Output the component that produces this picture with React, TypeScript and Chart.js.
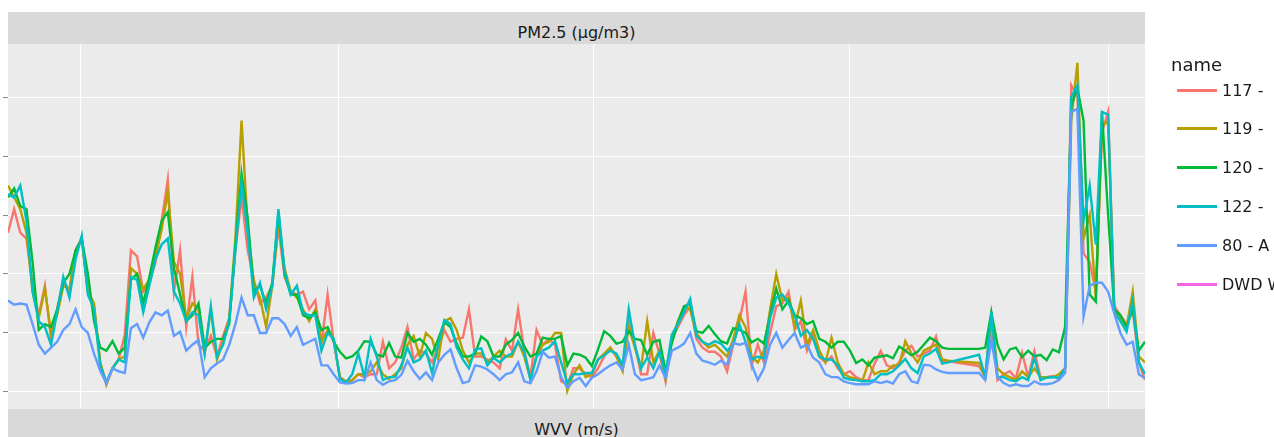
import React, { useEffect, useRef } from "react";
import { Chart, registerables } from "chart.js";

Chart.register(...registerables);

// ---- data -------------------------------------------------------------
// one sample every STEP_HOURS hours, starting at hour 0
const STEP_HOURS = 4;
const X_MAX_HOURS = 740;
// vertical grid lines (weekly date breaks), in hours from start
const X_GRID_HOURS = [47, 215, 381, 548, 716];
// horizontal grid lines / y ticks, µg/m3
const Y_TICKS = [0, 10, 20, 30, 40, 50];
const Y_MIN = -2.9;
const Y_MAX = 59;

const STRIP_TOP = "PM2.5 (µg/m3)";
const STRIP_BOTTOM = "WVV (m/s)";
const LEGEND_TITLE = "name";
const SERIES_NAMES = ["117 -", "119 -", "120 -", "122 -", "80 - A", "DWD W"];
const SERIES_COLORS = ["#F8766D", "#B79F00", "#00BA38", "#00BFC4", "#619CFF", "#F564E3"];

const S117: (number | null)[] = [
  27, 31, 27, 26, 18, 13, 18, 9, 14, 19,
  17, 24, 26, 17, 14.5, 5, 1.5, 4, 5.5, 9.7,
  24, 23, 17, 18.5, 22, 29, 36, 17, 24, 11,
  19.5, 8, 7, 9.5, 6, 9.5, 12.5, 24, 33, 24,
  19, 15, 16, 18, 28, 19.5, 17, 16.5, 17, 14,
  15.5, 8, 16.5, 8.5, 2.5, 1.8, 2, 3, 2.5, 3,
  3, 8.5, 4, 5, 7.5, 11, 5.5, 7, 6.5, 5,
  7.5, 10.5, 8.5, 9, 9.2, 14, 6, 6, 5.5, 5,
  4, 8.9, 7, 14, 7, 2.5, 10.5, 8, 9, 8,
  1.8, 1.2, 4, 4, 3, 2.5, 4, 6, 7.5, 6,
  4, 12.5, 8, 3, 3, 10, 6.5, 1.8, 9, 11,
  13, 14.5, 9, 7.5, 6.8, 6.8, 6, 3.5, 8, 12,
  17, 4.5, 8, 5, 10, 14.5, 15, 17, 10.5, 12,
  7, 10, 6, 5, 6, 4, 3, 3.5, 2.5, 2,
  2, 4.8, 6.9, 4.5, 4, 5, 7, 7.8, 6, 6.5,
  7, 9.4, 5.2, 5.2, null, null, null, null, 4.4, 2.5,
  12, 2, 3, 3.5, 2.3, 6.6, 2.5, 6.9, 2.5, 2.5,
  2.7, 2.2, 4, 52, 50, 23.5, 22, 17, 44, 47.5,
  14.5, 13, 11.5, 14, 5, 2,
];

const S119: (number | null)[] = [
  35, 33, 31, 27, 17, 12.5, 17.5, 10, 13, 18,
  17.5, 24, 26, 17, 15, 5, 1.2, 4, 5.5, 6,
  21, 20, 17.5, 19, 23, 27.5, 34, 22, 20, 12.5,
  15, 14, 6.5, 14, 5.5, 8.5, 12.5, 26, 46, 28,
  18.5, 16, 11, 18, 29, 21, 17, 16, 14, 12,
  14, 8.5, 10.5, 9, 2.5, 1.6, 2, 3, 3, 3.5,
  5, 3, 2.2, 3, 4, 8, 9.5, 6, 10, 9,
  5.5, 12, 12.5, 10.5, 7, 5, 6.5, 6.5, 5, 6,
  7, 6, 6, 8.5, 6, 2.2, 6, 8, 8.5, 10,
  10, 0.2, 3, 4.5, 2.5, 3, 5.5, 6.5, 7.5, 6,
  3.5, 11, 7.5, 4, 12, 5, 7, 2.2, 9, 12,
  14.5, 14, 10, 8.5, 7.5, 8, 7, 6, 9, 13,
  11, 6, 5, 7, 14, 20, 15.5, 16, 11, 15.5,
  8, 10.5, 7, 5, 9.2, 5, 3, 2.5, 2.2, 1.8,
  5, 3, 3.5, 3.5, 4.5, 4.5, 8.6, 6.5, 5, 7,
  7.5, 8, 5.5, 5.3, null, null, null, null, 4.9, 2.5,
  13, 4, 3, 2.5, 2, 3.5, 2.5, 4, 2.5, 2.5,
  2.5, 3, 4, 46, 55.8, 26, 30, 16, 45, 46,
  13.7, 12.5, 11, 17, 6, 5,
];

const S120: (number | null)[] = [
  33, 34.5, 31.5, 31, 22, 10.5, 11.5, 11, 14, 18.5,
  20, 24, 26, 20, 12, 7.5, 7, 8.6, 6.5, 7.5,
  19, 20, 15, 19.5, 24.5, 29, 30.5, 21, 16.5, 12,
  13, 15, 7.5, 8.5, 9, 9, 11.5, 25, 37, 29.5,
  17, 18, 15, 18.5, 30.5, 20, 16.5, 16.5, 13, 12.5,
  13.5, 10.5, 11, 8.5, 6.8, 5.7, 6, 7, 8.6, 8.5,
  6.3, 6, 8.3, 6, 5.8, 10, 8.5, 9, 8, 6.3,
  9, 11.8, 11, 8.2, 6, 6, 6.5, 9.4, 8.6, 6,
  6, 8, 8.8, 10, 7.7, 6, 6.5, 9.2, 9, 9,
  9.5, 4.5, 6.5, 6.3, 5.8, 4.4, 7.2, 10.3, 9.5, 8.2,
  8.5, 10.3, 9, 8.8, 6.3, 8.5, 8.8, 3.5, 8.2, 11.8,
  14.5, 15, 10.3, 10, 11.2, 9.8, 8.6, 8.2, 10.8, 10.5,
  10, 8.4, 9, 8.2, 13, 17.5, 14, 15.5, 13, 12.5,
  11.5, 12, 9, 8.5, 7.5, 8.5, 8.5, 7, 4.9, 5.5,
  4.5, 5.8, 6, 6.2, 5.7, 7.7, 7, 6.2, 6.8, 8,
  9.2, 8.6, 7.5, 7.3, null, null, null, null, 7.3, 7.5,
  13.5, 8, 5.5, 7.2, 7.5, 5.9, 7, 6, 6.3, 5.4,
  7.2, 6.7, 11, 48.5, 51.5, 46, 16.5, 15.3, 47.5, 30,
  14, 13, 11, 14, 7, 8.5,
];

const S122: (number | null)[] = [
  33.5, 33, 35, 29, 17, 12, 11, 8, 13.5, 19.5,
  16, 22.5, 26.5, 16.5, 14, 4.5, 1.6, 4, 5.5, 5,
  19.5, 19, 13.5, 18, 22.5, 25, 26, 17, 15, 12,
  13.5, 13, 6.5, 14.5, 6, 8, 12, 24, 35.5, 27,
  16, 18.5, 14, 18, 31, 20.5, 16.5, 18, 13.5, 13,
  13, 7, 10, 9, 2.2, 1.6, 3, 6.5, 2.5, 9,
  6, 2, 2.5, 2.5, 4.5, 7.5, 5, 5.5, 7, 3.2,
  8, 12.2, 11.5, 7.5, 5.5, 4, 7.2, 7.4, 4.5, 5.8,
  5, 6, 6.5, 8.5, 6.8, 2, 6, 7, 7.5, 8.6,
  5, 1.5, 3, 3, 3.2, 3.2, 5.5, 6.2, 7, 6.5,
  4.5, 14, 8, 4, 5.8, 4, 6.8, 3, 9.7, 11.5,
  13.5, 15.8, 9.5, 8.5, 8, 8.6, 8.2, 7, 8, 11.5,
  8.5, 5.5, 6, 5.7, 12.5, 16, 16.5, 15, 13, 9.5,
  10.5, 9, 6, 5.5, 5.5, 4.5, 2.4, 2.1, 2, 1.8,
  1.8, 2, 3, 3, 3.5, 4.5, 5.6, 4, 3.2, 6,
  6.5, 7.3, 4.8, 5, null, null, null, null, 6.3, 2.5,
  13.5, 2.5, 2.5, 2, 1.8, 2.5, 2, 5.8, 2, 2.4,
  2.5, 2.4, 4, 50, 52, 29, 35, 25, 47.5, 47,
  13.5, 12, 10.2, 15.5, 5, 3,
];

const S80: (number | null)[] = [
  15.5, 14.8, 15, 14.8, 11.5, 8, 6.5, 7.5, 8.5, 10.5,
  11.5, 14, 11, 10, 6.5, 3.6, 1.5, 4, 3.5, 3.2,
  10.8, 11.5, 9.2, 11.8, 13.5, 13, 13.8, 9.5, 10.2, 7,
  8, 8.8, 2.5, 4, 4.8, 5.5, 8, 11.5, 16, 13,
  13, 10, 10, 12.5, 12.5, 11.5, 9.5, 11, 8, 8.5,
  9, 4.5, 4.5, 3, 1.6, 1.4, 1.5, 2, 2, 5,
  2, 1.2, 1.8, 2, 2.9, 5.3, 3.5, 2.2, 3.3, 2,
  5, 6.3, 7.2, 4, 1.5, 1.8, 4.5, 4.3, 3.8, 3,
  2, 3, 3.3, 5, 1.8, 1.5, 3.5, 6.8, 5.8, 6,
  2.5, 0.7, 1.8, 2.4, 1, 2.4, 3, 3.8, 4.5, 5,
  3.8, 8, 3, 2, 2.2, 2.5, 4.5, 2.4, 7, 7.5,
  8.2, 10, 6.5, 5.3, 5, 4.6, 5.3, 4.6, 8.3, 8,
  8.3, 4.6, 2, 4, 8, 10, 7.5, 8.8, 10, 7.5,
  8, 5.8, 5, 3, 2.5, 2.5, 1.8, 1.5, 1.3, 1.3,
  1.3, 1.8, 1.5, 1.8, 1.4, 3, 3.5, 1.8, 1.5, 4.6,
  4.5, 3.8, 3.4, 3.2, null, null, null, null, 3.2, 2,
  8.8, 2.6, 1.5, 1, 1.3, 1, 1, 1.8, 1.3, 1.3,
  1.5, 2, 3.2, 47.5, 48, 12.8, 18, 18.5, 18.5, 17,
  13.3, 10, 8, 8.5, 3, 2.3,
];

// DWD W has no PM2.5 values in this panel (legend only)
const SDWD: (number | null)[] = [];

const SERIES_VALUES = [S117, S119, S120, S122, S80, SDWD];

// ---- layout / style ----------------------------------------------------
const W = 1274;
const H = 437;
const FONT = '"DejaVu Sans", Verdana, sans-serif';
const PANEL_BG = "#EBEBEB";
const STRIP_BG = "#D9D9D9";
const TEXT = "#1A1A1A";

const panelBg = {
  id: "panelBg",
  beforeDraw(chart: any) {
    const { ctx, chartArea } = chart;
    if (!chartArea) return;
    ctx.save();
    ctx.fillStyle = PANEL_BG;
    ctx.fillRect(chartArea.left, chartArea.top, chartArea.right - chartArea.left, chartArea.bottom - chartArea.top);
    ctx.restore();
  },
};

export default function App() {
  const ref = useRef<HTMLCanvasElement>(null);

  useEffect(() => {
    const prev = document.body.style.margin;
    document.body.style.margin = "0";
    const datasets = SERIES_VALUES.map((vals, k) => ({
      label: SERIES_NAMES[k],
      data: vals.map((v, i) => ({ x: i * STEP_HOURS, y: v })),
      borderColor: SERIES_COLORS[k],
      backgroundColor: SERIES_COLORS[k],
      borderWidth: 2.4,
      pointRadius: 0,
      tension: 0,
      spanGaps: true,
      fill: false,
      order: SERIES_VALUES.length - k,
    }));
    const chart = new Chart(ref.current as HTMLCanvasElement, {
      type: "line",
      data: { datasets } as any,
      plugins: [panelBg],
      options: {
        animation: false,
        responsive: false,
        maintainAspectRatio: false,
        devicePixelRatio: 1,
        events: [],
        layout: { padding: { left: 0, right: 129, top: 44, bottom: 0 } },
        plugins: { legend: { display: false }, tooltip: { enabled: false }, title: { display: false } },
        scales: {
          x: {
            type: "linear",
            min: 0,
            max: X_MAX_HOURS,
            ticks: { display: false },
            grid: { color: "#FFFFFF", lineWidth: 1, drawTicks: false },
            border: { display: false },
            afterBuildTicks: (s: any) => {
              s.ticks = X_GRID_HOURS.map((v) => ({ value: v }));
            },
            afterFit: (s: any) => {
              s.height = 28;
            },
          },
          y: {
            type: "linear",
            min: Y_MIN,
            max: Y_MAX,
            ticks: { display: false },
            grid: { color: "#FFFFFF", lineWidth: 1, drawTicks: true, tickLength: 5, tickColor: "#8a8a8a" },
            border: { display: false },
            afterBuildTicks: (s: any) => {
              s.ticks = Y_TICKS.map((v) => ({ value: v }));
            },
            afterFit: (s: any) => {
              s.width = 8;
            },
          },
        },
      } as any,
    });
    return () => {
      chart.destroy();
      document.body.style.margin = prev;
    };
  }, []);

  const stripText: React.CSSProperties = {
    position: "absolute",
    left: 0,
    right: 0,
    top: 12.5,
    fontSize: 16,
    lineHeight: "16px",
    textAlign: "center",
    color: TEXT,
    whiteSpace: "nowrap",
  };

  return (
    <div
      style={{
        position: "fixed",
        left: 0,
        top: 0,
        width: W,
        height: H,
        overflow: "hidden",
        background: "#FFFFFF",
        fontFamily: FONT,
      }}
    >
      <canvas ref={ref} width={W} height={H} style={{ position: "absolute", left: 0, top: 0, width: W, height: H }} />
      <div style={{ position: "absolute", left: 8, top: 12, width: 1137, height: 32, background: STRIP_BG }}>
        <div style={stripText}>{STRIP_TOP}</div>
      </div>
      <div style={{ position: "absolute", left: 8, top: 409, width: 1137, height: 28, background: STRIP_BG }}>
        <div style={stripText}>{STRIP_BOTTOM}</div>
      </div>
      <div
        style={{
          position: "absolute",
          left: 1171,
          top: 55.5,
          fontSize: 18,
          lineHeight: "18px",
          color: TEXT,
          whiteSpace: "nowrap",
        }}
      >
        {LEGEND_TITLE}
      </div>
      {SERIES_NAMES.map((name, k) => (
        <React.Fragment key={name}>
          <div
            style={{
              position: "absolute",
              left: 1177,
              top: 90 + 38.8 * k - 1.5,
              width: 40,
              height: 3,
              background: SERIES_COLORS[k],
            }}
          />
          <div
            style={{
              position: "absolute",
              left: 1222,
              top: 82.5 + 38.8 * k,
              fontSize: 16,
              lineHeight: "16px",
              color: TEXT,
              whiteSpace: "nowrap",
            }}
          >
            {name}
          </div>
        </React.Fragment>
      ))}
    </div>
  );
}
